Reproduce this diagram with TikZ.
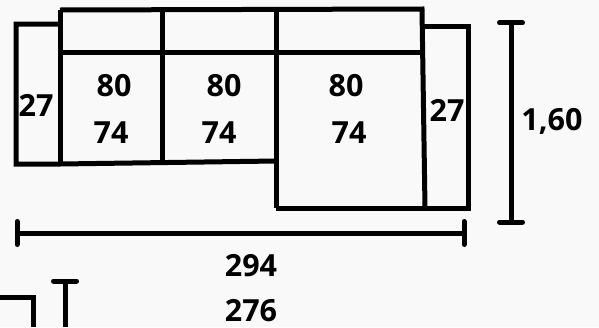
\documentclass[tikz,border=0pt]{standalone}
\usepackage{fontspec}
\setmainfont{Open Sans}
\usetikzlibrary{arrows.meta}
\definecolor{paper}{HTML}{F9F9F9}
\begin{document}
\begin{tikzpicture}[x=1pt,y=-1pt]
\tikzset{
  sofaline/.style = {line width=5pt, line cap=butt, line join=miter},
  dimline/.style  = {line width=5pt, {Bar[width=23pt,line width=5pt,round]}-{Bar[width=23pt,line width=5pt,round]}},
  size/.style     = {font=\bfseries\fontsize{30.5}{30.5}\selectfont, inner sep=0pt, text depth=0pt}
}
\fill[paper] (0,0) rectangle (599,327);
\useasboundingbox (0,0) rectangle (599,327);
% corner points of the sofa
\coordinate (backL) at (60,10);
\coordinate (backR) at (422,9);
\coordinate (armLT) at (16,24);
\coordinate (armLB) at (16,164);
\coordinate (armRT) at (468,26);
\coordinate (armRB) at (468,208);
\coordinate (seatB) at (276,208);
% outline
\draw[sofaline] (backL) -- (60,164);
\draw[sofaline] (backL) -- (backR) -- (425,208);
\draw[sofaline] (backL |- armLT) -- (armLT) -- (armLB) -- (60,164) -- (276,161);
\draw[sofaline] (backR |- armRT) -- (armRT) -- (armRB) -- (seatB);
% dividers
\draw[sofaline] (60,52) -- (420,52);
\foreach \x/\y in {162.5/162, 276/208} {
  \draw[sofaline] (\x,10) -- (\x,\y);}
% lower picture, cut off
\draw[sofaline] (0,297) -- (33,297) -- (33,327);
\draw[line width=5pt, {Bar[width=23pt,line width=5pt,round]}-] (65,278.5) -- (65,327);
% dimensions
\coordinate (widthL) at (14.5,233);
\coordinate (widthR) at (466.5,233);
\coordinate (depthT) at (511,20.2);
\coordinate (depthB) at (511,224.5);
\draw[dimline] (widthL) -- (widthR);
\draw[dimline] (depthT) -- (depthB);
% labels
\foreach \name/\x/\y/\val in {a/114/85/80, b/224/85/80, c/346/85/80,
    d/111/133/74, e/219/133/74, f/349/133/74,
    g/36/105/27, h/447/110/27, i/552/119/{1,60},
    j/251/265/294, k/251/310/276} {
  \node[size] (label-\name) at (\x,\y) {\val};}
\end{tikzpicture}
\end{document}
